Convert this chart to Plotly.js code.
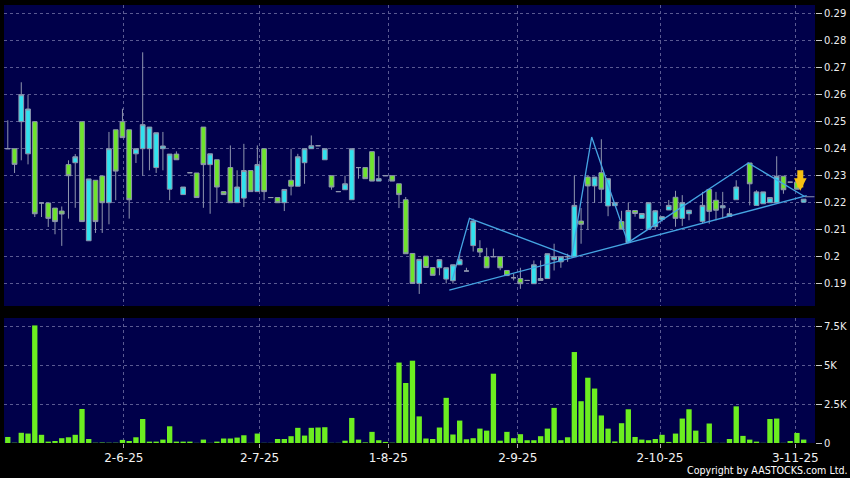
<!DOCTYPE html>
<html>
<head>
<meta charset="utf-8">
<script src="https://cdn.plot.ly/plotly-3.0.1.min.js"></script>
<style>html,body{margin:0;padding:0;background:#000;}#chart{width:850px;height:478px;}</style>
</head>
<body>
<div id="chart"></div>
<script>
// ---- data (trading-day index 0..118) ----
const opens  = [0.2400,0.2400,0.2500,0.2381,0.2500,0.2199,0.2199,0.2180,0.2169,0.2341,
                0.2348,0.2500,0.2059,0.2283,0.2299,0.2200,0.2470,0.2500,0.2470,0.2381,
                0.2400,0.2400,0.2330,0.2400,0.2250,0.2380,0.2230,0.2311,0.2310,0.2480,
                0.2341,0.2359,0.2241,0.2330,0.2200,0.2217,0.2319,0.2241,0.2400,0.2219,
                0.2219,0.2200,0.2283,0.2261,0.2348,0.2400,0.2411,0.2359,0.2300,0.2241,
                0.2248,0.2211,0.2330,0.2330,0.2389,0.2280,0.2300,0.2300,0.2270,0.2211,
                0.2012,0.1901,0.2002,0.1960,0.1959,0.1917,0.1911,0.1970,0.1947,0.2041,
                0.2030,0.2000,0.2000,0.2000,0.1949,0.1922,0.1919,0.1912,0.1900,0.1912,
                0.1919,0.1989,0.1981,0.2000,0.2000,0.2132,0.2295,0.2262,0.2311,0.2188,
                0.2189,0.2130,0.2052,0.2171,0.2142,0.2101,0.2111,0.2138,0.2173,0.2220,
                0.2142,0.2159,null,  0.2131,0.2249,0.2209,0.2181,0.2149,0.2211,null,
                0.2347,0.2190,0.2196,0.2200,0.2200,0.2298,0.2276,0.2276,0.2202];
const highs  = [0.2505,0.2400,0.2646,0.2600,0.2500,0.2199,0.2199,0.2180,0.2186,0.2357,
                0.2380,0.2500,0.2288,0.2283,0.2299,0.2462,0.2470,0.2548,0.2470,0.2400,
                0.2757,0.2480,0.2459,0.2462,0.2380,0.2390,0.2258,0.2311,0.2310,0.2480,
                0.2381,0.2359,0.2241,0.2412,0.2320,0.2418,0.2319,0.2412,0.2400,0.2219,
                0.2219,0.2249,0.2400,0.2381,0.2400,0.2449,0.2411,0.2400,0.2300,0.2241,
                0.2300,0.2400,0.2330,0.2330,0.2389,0.2372,0.2300,0.2300,0.2270,0.2221,
                0.2012,0.1990,0.2002,0.1960,0.1989,0.1959,0.1970,0.2017,0.1959,0.2141,
                0.2061,0.2033,0.2030,0.2000,0.1949,0.1937,0.1959,0.1912,0.1986,0.1986,
                0.2011,0.2048,0.2000,0.2011,0.2301,0.2180,0.2300,0.2295,0.2435,0.2289,
                0.2200,0.2170,0.2200,0.2171,0.2161,0.2200,0.2173,0.2150,0.2210,0.2244,
                0.2228,0.2172,null,  0.2240,0.2249,0.2240,0.2240,0.2180,0.2283,null,
                0.2347,0.2246,0.2240,0.2219,0.2372,0.2298,0.2276,0.2276,0.2213];
const lows   = [0.2400,0.2310,0.2357,0.2342,0.2147,0.2147,0.2110,0.2083,0.2040,0.2141,
                0.2181,0.2130,0.2059,0.2088,0.2088,0.2120,0.2209,0.2441,0.2141,0.2347,
                0.2300,0.2320,0.2310,0.2320,0.2209,0.2359,0.2230,0.2311,0.2219,0.2181,
                0.2159,0.2199,0.2230,0.2200,0.2200,0.2184,0.2241,0.2241,0.2209,0.2219,
                0.2200,0.2169,0.2227,0.2261,0.2270,0.2400,0.2411,0.2359,0.2248,0.2241,
                0.2248,0.2211,0.2289,0.2289,0.2280,0.2280,0.2300,0.2280,0.2180,0.2011,
                0.1901,0.1862,0.1960,0.1931,0.1931,0.1901,0.1900,0.1970,0.1947,0.2019,
                0.1999,0.1959,0.2000,0.1950,0.1930,0.1912,0.1881,0.1912,0.1900,0.1912,
                0.1919,0.1949,0.1959,0.1981,0.1999,0.2048,0.2100,0.2199,0.2199,0.2150,
                0.2189,0.2102,0.2052,0.2148,0.2142,0.2101,0.2100,0.2130,0.2173,0.2111,
                0.2114,0.2135,null,  0.2122,0.2122,0.2135,0.2141,0.2149,0.2211,null,
                0.2190,0.2190,0.2196,0.2200,0.2200,0.2233,0.2276,0.2250,0.2202];
const closes = [0.2400,0.2342,0.2600,0.2547,0.2159,0.2199,0.2142,0.2130,0.2158,0.2300,
                0.2370,0.2130,0.2288,0.2130,0.2200,0.2400,0.2317,0.2441,0.2211,0.2400,
                0.2489,0.2480,0.2459,0.2410,0.2380,0.2359,0.2258,0.2311,0.2219,0.2341,
                0.2381,0.2258,0.2230,0.2200,0.2258,0.2319,0.2241,0.2341,0.2241,0.2219,
                0.2200,0.2249,0.2261,0.2370,0.2400,0.2411,0.2411,0.2400,0.2258,0.2241,
                0.2270,0.2400,0.2330,0.2289,0.2280,0.2289,0.2300,0.2280,0.2230,0.2011,
                0.1901,0.1990,0.1960,0.1931,0.1989,0.1959,0.1970,0.1989,0.1947,0.2132,
                0.2017,0.1959,0.2000,0.1959,0.1930,0.1922,0.1900,0.1912,0.1970,0.1919,
                0.2011,0.2000,0.2000,0.2000,0.2190,0.2120,0.2262,0.2295,0.2250,0.2289,
                0.2200,0.2102,0.2171,0.2160,0.2160,0.2200,0.2170,0.2148,0.2190,0.2142,
                0.2200,0.2172,null,  0.2190,0.2168,0.2172,0.2189,0.2159,0.2258,null,
                0.2270,0.2240,0.2240,0.2219,0.2298,0.2248,0.2276,0.2250,0.2213];
// volume in thousands of shares
const volumesK = [0.39,0.02,0.66,0.61,7.60,0.53,0.09,0.13,0.31,0.37,
                  0.53,2.20,0.26,0.02,0.03,0.02,0.02,0.20,0.13,0.37,
                  1.55,0.09,0.09,0.22,1.08,0.09,0.09,0.09,0.01,0.22,
                  0.01,0.09,0.29,0.29,0.35,0.50,0.01,0.61,0.01,0.01,
                  0.26,0.26,0.44,0.98,0.48,0.98,1.00,1.02,0.01,0.01,
                  0.15,1.62,0.22,0.04,0.72,0.18,0.07,0.02,5.20,3.88,
                  5.32,1.72,0.29,0.26,1.00,2.92,0.55,1.45,0.24,0.31,
                  0.93,0.80,4.48,0.15,0.72,0.31,0.57,0.18,0.18,0.44,
                  0.93,2.27,0.18,0.37,5.88,2.70,4.22,3.52,1.78,0.93,
                  0.10,1.28,2.18,0.39,0.22,0.18,0.26,0.53,0.07,0.61,
                  1.58,2.18,0.80,0.05,1.26,0.01,0.01,0.26,2.37,0.46,
                  0.22,0.09,0.01,1.55,1.58,0.01,0.13,0.65,0.22];
const dayIndex = opens.map((_, i) => i);

// trend lines drawn on the chart (index, price)
const zigzagIdx   = [65.9, 68.45, 83.6, 86.57, 91.95, 109.8, 118.2];
const zigzagPrice = [0.1915, 0.2142, 0.2000, 0.2443, 0.2052, 0.2347, 0.2222];
const supportIdx   = [65.46, 118.45];
const supportPrice = [0.1876, 0.2226];
const lastIdx   = [118.2, 119.6];
const lastPrice = [0.2222, 0.2222];

// axis ticks
const dateTickPos  = [17.2, 37.33, 56.41, 75.61, 96.7, 116.76];
const dateTickText = ['2-6-25','2-7-25','1-8-25','2-9-25','2-10-25','3-11-25'];
const priceTicks = [0.19,0.20,0.21,0.22,0.23,0.24,0.25,0.26,0.27,0.28,0.29];
const priceTickText = ['0.19','0.2','0.21','0.22','0.23','0.24','0.25','0.26','0.27','0.28','0.29'];
const volTicks = [0, 2.5, 5, 7.5];
const volTickText = ['0','2.5K','5K','7.5K'];
const arrowTip = {idx: 117.5, price: 0.2244};

// ---- styles ----
const WICK = '#8f96ae';
const UP = '#30e2ee';
const DOWN = '#6ee42c';
const VOL = '#6cee20';
const LINE = '#45a4e2';
const GRID = '#5a5a92';
const FONT = 'DejaVu Sans';

const traces = [
  {
    type: 'candlestick', x: dayIndex, open: opens, high: highs, low: lows, close: closes,
    xaxis: 'x', yaxis: 'y',
    increasing: {line: {color: WICK, width: 1}, fillcolor: UP},
    decreasing: {line: {color: WICK, width: 1}, fillcolor: DOWN},
    whiskerwidth: 0, hoverinfo: 'skip'
  },
  {type: 'scatter', mode: 'lines', x: supportIdx, y: supportPrice, xaxis: 'x', yaxis: 'y',
   line: {color: LINE, width: 1.3}, hoverinfo: 'skip'},
  {type: 'scatter', mode: 'lines', x: zigzagIdx, y: zigzagPrice, xaxis: 'x', yaxis: 'y',
   line: {color: LINE, width: 1.3}, hoverinfo: 'skip'},
  {type: 'scatter', mode: 'lines', x: lastIdx, y: lastPrice, xaxis: 'x', yaxis: 'y',
   line: {color: WICK, width: 1}, hoverinfo: 'skip'},
  {type: 'bar', x: dayIndex, y: volumesK, xaxis: 'x', yaxis: 'y2',
   marker: {color: VOL, line: {width: 0}}, hoverinfo: 'skip'}
];

const layout = {
  width: 850, height: 478,
  paper_bgcolor: '#000000', plot_bgcolor: '#00004a',
  margin: {l: 4, r: 35, t: 5, b: 35},
  showlegend: false, hovermode: false,
  boxgap: 0.3, boxgroupgap: 0, bargap: 0.21,
  xaxis: {
    domain: [0, 1], range: [-0.562, 119.68], anchor: 'y2',
    tickmode: 'array', tickvals: dateTickPos, ticktext: dateTickText,
    ticks: 'outside', ticklen: 4, tickcolor: '#aaaaaa', tickwidth: 1,
    showgrid: true, gridcolor: GRID, griddash: '3px,3px', gridwidth: 1,
    zeroline: false, showline: false,
    tickfont: {family: FONT, size: 12, color: '#f2f2f2'},
    rangeslider: {visible: false}, fixedrange: true
  },
  yaxis: {
    domain: [0.3128, 1], range: [0.18174, 0.29322], side: 'right', anchor: 'x',
    tickmode: 'array', tickvals: priceTicks, ticktext: priceTickText,
    ticks: 'outside', ticklen: 6, tickcolor: '#cccccc',
    showgrid: true, gridcolor: GRID, griddash: '3px,3px', gridwidth: 1,
    zeroline: false, showline: false,
    tickfont: {family: FONT, size: 10, color: '#eeeeee'}, fixedrange: true
  },
  yaxis2: {
    domain: [0, 0.2854], range: [0, 8.08], side: 'right', anchor: 'x',
    tickmode: 'array', tickvals: volTicks, ticktext: volTickText,
    ticks: 'outside', ticklen: 6, tickcolor: '#cccccc',
    showgrid: true, gridcolor: GRID, griddash: '3px,3px', gridwidth: 1,
    zeroline: false, showline: false,
    tickfont: {family: FONT, size: 10, color: '#eeeeee'}, fixedrange: true
  },
  annotations: [
    {xref: 'paper', yref: 'paper', x: 1.0419, y: -0.0776, xanchor: 'right', yanchor: 'bottom',
     text: 'Copyright by AASTOCKS.com Ltd.', showarrow: false, borderpad: 0,
     font: {family: 'DejaVu Sans Condensed, DejaVu Sans', size: 10.6, color: '#ffffff'}},
    {xref: 'x', yref: 'y', x: arrowTip.idx, y: arrowTip.price, text: '', showarrow: true,
     ax: 0, ay: -22, arrowcolor: '#f6c012', arrowwidth: 6, arrowhead: 2, arrowsize: 0.42}
  ]
};

Plotly.newPlot('chart', traces, layout, {staticPlot: true, displayModeBar: false});
</script>
</body>
</html>
